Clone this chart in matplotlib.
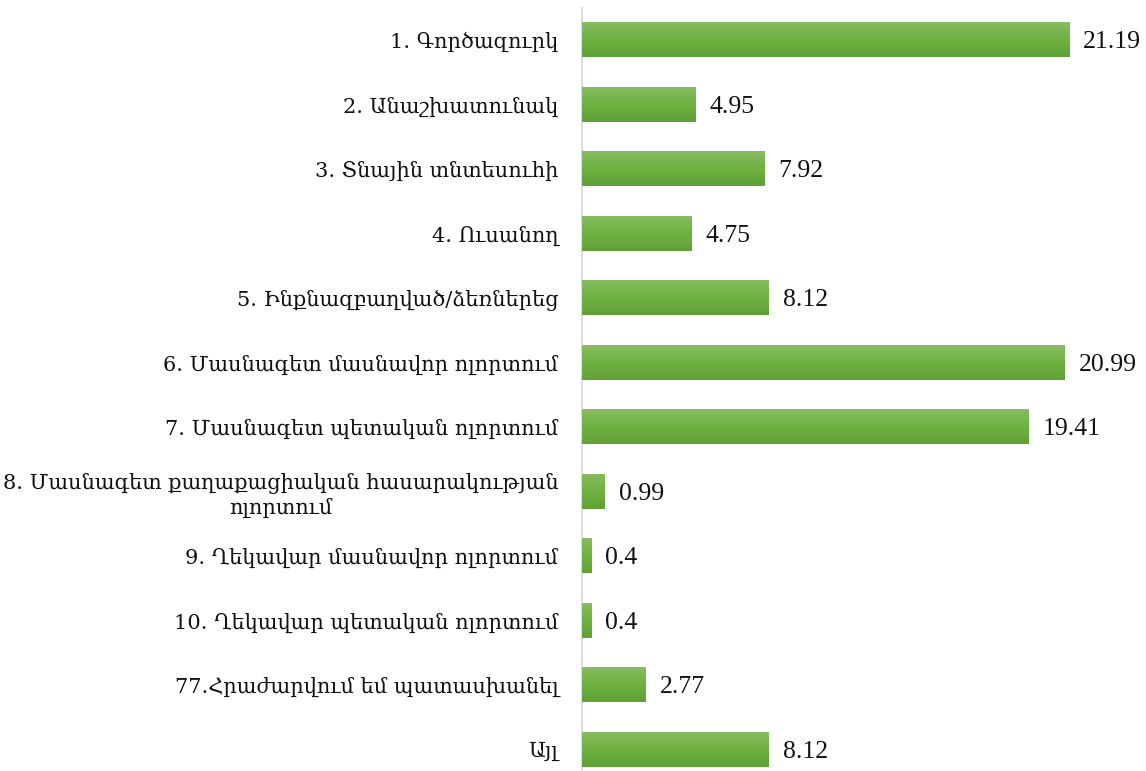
import numpy as np
import matplotlib.pyplot as plt
from matplotlib.colors import LinearSegmentedColormap

# categories, top to bottom
labels = [
    '1. Գործազուրկ',
    '2. Անաշխատունակ',
    '3. Տնային տնտեսուհի',
    '4. Ուսանող',
    '5. Ինքնազբաղված/ձեռներեց',
    '6. Մասնագետ մասնավոր ոլորտում',
    '7. Մասնագետ պետական ոլորտում',
    '8. Մասնագետ քաղաքացիական հասարակության\nոլորտում',
    '9. Ղեկավար մասնավոր ոլորտում',
    '10. Ղեկավար պետական ոլորտում',
    '77.Հրաժարվում եմ պատասխանել',
    'Այլ',
]
values = [21.19, 4.95, 7.92, 4.75, 8.12, 20.99, 19.41, 0.99, 0.4, 0.4, 2.77, 8.12]

W, H = 1146, 771
fig = plt.figure(figsize=(W / 100, H / 100), dpi=100)
# axes placed in pixel terms: spine at x=582, rows 64.5 px apart
ax = fig.add_axes([582 / W, -11 / H, (W - 582) / W, 774 / H])

y = np.arange(len(values))
bars = ax.barh(y, values, height=0.53, color='#70ad47', zorder=2)

# vertical green gradient on each bar
grad = LinearSegmentedColormap.from_list('g', ['#86bc61', '#6fb141', '#60a035'])
g = np.linspace(0, 1, 64).reshape(-1, 1)
for b in bars:
    x0, y0, w, h = b.get_x(), b.get_y(), b.get_width(), b.get_height()
    ax.imshow(g, cmap=grad, aspect='auto', extent=(x0, x0 + w, y0 + h, y0),
              zorder=3, interpolation='bicubic')
    ax.text(x0 + w + 0.6, y0 + h / 2 + 0.03, f'{w:g}', va='center', ha='left',
            fontsize=18.5, family=['Liberation Serif', 'DejaVu Serif'], color='#111111')

ax.set_xlim(0, (W - 582) / 23.0)
ax.set_ylim(len(values) - 0.5, -0.5)

ax.set_yticks(y)
ax.set_yticklabels(labels, fontsize=15, family=['DejaVu Serif'], color='#111111',
                   multialignment='center')
ax.tick_params(axis='y', length=0, pad=17)
ax.set_xticks([])

for s in ['top', 'right', 'bottom']:
    ax.spines[s].set_visible(False)
ax.spines['left'].set_color('#d9dde6')
ax.spines['left'].set_linewidth(1.5)

fig.savefig('out.png', dpi=100)
